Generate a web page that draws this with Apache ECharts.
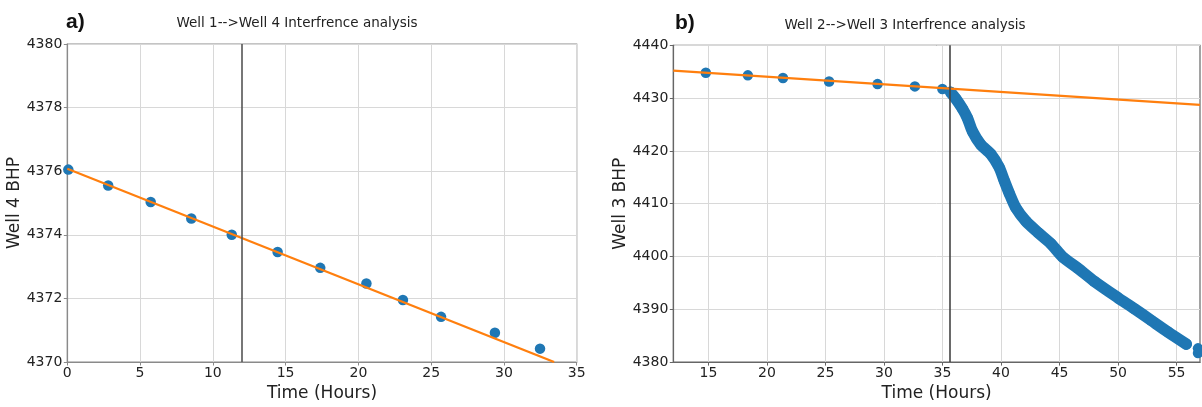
<!DOCTYPE html>
<html><head><meta charset="utf-8">
<script src="https://cdn.jsdelivr.net/npm/echarts@6/dist/echarts.min.js"></script>
<style>html,body{margin:0;padding:0;background:#fff}#c{width:1202px;height:407px}</style>
</head><body><div id="c"></div>
<script>
// ---- Panel a) Well 1 --> Well 4 ----
const wellA_time = [0.07, 2.81, 5.73, 8.52, 11.3, 14.45, 17.38, 20.55, 23.06, 25.68, 29.38, 32.48];
const wellA_bhp  = [4376.05, 4375.55, 4375.03, 4374.51, 4374.0, 4373.46, 4372.96, 4372.47, 4371.95, 4371.42, 4370.92, 4370.42];
const wellA_fitTime = [0, 33.45];
const wellA_fitBhp  = [4376.08, 4370.0];
const wellA_marker = 12;
const wellA_title = 'Well 1-->Well 4 Interfrence analysis';
const wellA_yName = 'Well 4 BHP';

// ---- Panel b) Well 2 --> Well 3 ----
const wellB_earlyTime = [14.78, 18.37, 21.37, 25.31, 29.45, 32.64, 34.99];
const wellB_earlyBhp  = [4434.81, 4434.31, 4433.81, 4433.15, 4432.65, 4432.22, 4431.72];
const wellB_respTime = [35.7, 36.13, 36.7, 37.13, 37.56, 38.27, 39.13, 39.84, 40.27, 40.7, 41.27, 42.12, 43.13, 44.27, 45.27, 46.55, 47.97, 49.98, 51.4, 52.83, 54.26, 55.83];
const wellB_respBhp  = [4431.1, 4429.9, 4428.0, 4426.2, 4423.7, 4421.2, 4419.4, 4416.9, 4414.4, 4412.0, 4409.2, 4406.7, 4404.6, 4402.4, 4399.9, 4397.8, 4395.3, 4392.2, 4390.1, 4387.9, 4385.7, 4383.4];
const wellB_tailTime = [56.83, 56.83];
const wellB_tailBhp  = [4382.6, 4381.7];
const wellB_fitTime = [12, 57];
const wellB_fitBhp  = [4435.2, 4428.7];
const wellB_marker = 35.64;
const wellB_xTicks = [15, 20, 25, 30, 35, 40, 45, 50, 55];
const wellB_title = 'Well 2-->Well 3 Interfrence analysis';
const wellB_yName = 'Well 3 BHP';

const xName = 'Time (Hours)';

const zip = (a, b) => a.map((v, i) => [v, b[i]]);
const FONT = 'DejaVu Sans';
const BLUE = '#1f77b4', ORANGE = '#ff7f0e';
const plain = v => String(v);

function axisCommon(spine) {
  return {
    axisLine: { show: true, onZero: false, lineStyle: { color: spine, width: 1.2 } },
    axisTick: { show: true, length: 3.5, lineStyle: { color: spine } },
    splitLine: { show: true, lineStyle: { color: '#d8d8d8', width: 1 } },
    nameTextStyle: { fontFamily: FONT, fontSize: 17, color: '#222' },
    nameLocation: 'middle'
  };
}
const lbl = (m, extra) => Object.assign({ fontFamily: FONT, fontSize: 14, color: '#222', margin: m, formatter: plain }, extra || {});

const spineA = '#8a8a8a', spineB = '#666666';

const option = {
  animation: false,
  backgroundColor: '#fff',
  grid: [
    { left: 67.3, right: 1202 - 576.7, top: 44, bottom: 407 - 362, show: true, borderColor: spineA, borderWidth: 1.2, backgroundColor: 'transparent' },
    { left: 673.3, right: 2, top: 45.3, bottom: 407 - 369, show: true, borderColor: spineB, borderWidth: 1.2, backgroundColor: 'transparent' }
  ],
  xAxis: [
    Object.assign(axisCommon(spineA), { type: 'value', gridIndex: 0, min: 0, max: 35, interval: 5, name: xName, nameGap: 16, axisLabel: lbl(4) }),
    Object.assign(axisCommon(spineB), { type: 'value', gridIndex: 1, min: 12, max: 57, name: xName, nameGap: 16,
      axisTick: { show: true, length: 3.5, lineStyle: { color: spineB }, customValues: wellB_xTicks },
      axisLabel: lbl(4, { customValues: wellB_xTicks }) })
  ],
  yAxis: [
    Object.assign(axisCommon(spineA), { type: 'value', gridIndex: 0, min: 4370, max: 4380, interval: 2, name: wellA_yName, nameGap: 38, axisLabel: lbl(5) }),
    Object.assign(axisCommon(spineB), { type: 'value', gridIndex: 1, min: 4380, max: 4440, interval: 10, name: wellB_yName, nameGap: 39, axisLabel: lbl(5) })
  ],
  graphic: [
    { type: 'text', x: 297, y: 23, style: { text: wellA_title, font: '13.5px "DejaVu Sans"', fill: '#222', textAlign: 'center', textVerticalAlign: 'middle' } },
    { type: 'text', x: 905, y: 25, style: { text: wellB_title, font: '13.5px "DejaVu Sans"', fill: '#222', textAlign: 'center', textVerticalAlign: 'middle' } },
    { type: 'text', x: 66, y: 22, style: { text: 'a)', font: 'bold 21px "Liberation Sans"', fill: '#111', textAlign: 'left', textVerticalAlign: 'middle' } },
    { type: 'text', x: 675, y: 23, style: { text: 'b)', font: 'bold 21px "Liberation Sans"', fill: '#111', textAlign: 'left', textVerticalAlign: 'middle' } }
  ],
  series: [
    { type: 'scatter', xAxisIndex: 0, yAxisIndex: 0, data: zip(wellA_time, wellA_bhp), symbolSize: 10.5, itemStyle: { color: BLUE, opacity: 1 }, z: 2 },
    { type: 'line', xAxisIndex: 0, yAxisIndex: 0, data: zip(wellA_fitTime, wellA_fitBhp), showSymbol: false, symbol: 'none',
      lineStyle: { color: ORANGE, width: 2.2 }, z: 3,
      markLine: { silent: true, symbol: 'none', label: { show: false }, lineStyle: { color: '#555', width: 1.6, type: 'solid' }, data: [{ xAxis: wellA_marker }] } },

    { type: 'scatter', xAxisIndex: 1, yAxisIndex: 1, data: zip(wellB_earlyTime, wellB_earlyBhp), symbolSize: 10.5, itemStyle: { color: BLUE, opacity: 1 }, z: 2 },
    { type: 'line', xAxisIndex: 1, yAxisIndex: 1, data: zip(wellB_respTime, wellB_respBhp), showSymbol: true, symbol: 'circle', symbolSize: 11, smooth: 0.25,
      itemStyle: { color: BLUE, opacity: 1 }, lineStyle: { color: BLUE, width: 11.5, cap: 'round', join: 'round' }, z: 2 },
    { type: 'scatter', xAxisIndex: 1, yAxisIndex: 1, data: zip(wellB_tailTime, wellB_tailBhp), symbolSize: 10.5, itemStyle: { color: BLUE, opacity: 1 }, z: 2, clip: false },
    { type: 'line', xAxisIndex: 1, yAxisIndex: 1, data: zip(wellB_fitTime, wellB_fitBhp), showSymbol: false, symbol: 'none',
      lineStyle: { color: ORANGE, width: 2.2 }, z: 3,
      markLine: { silent: true, symbol: 'none', label: { show: false }, lineStyle: { color: '#444', width: 1.6, type: 'solid' }, data: [{ xAxis: wellB_marker }] } }
  ]
};

const chart = echarts.init(document.getElementById('c'), null, { renderer: 'canvas' });
chart.setOption(option);
</script>
</body></html>
